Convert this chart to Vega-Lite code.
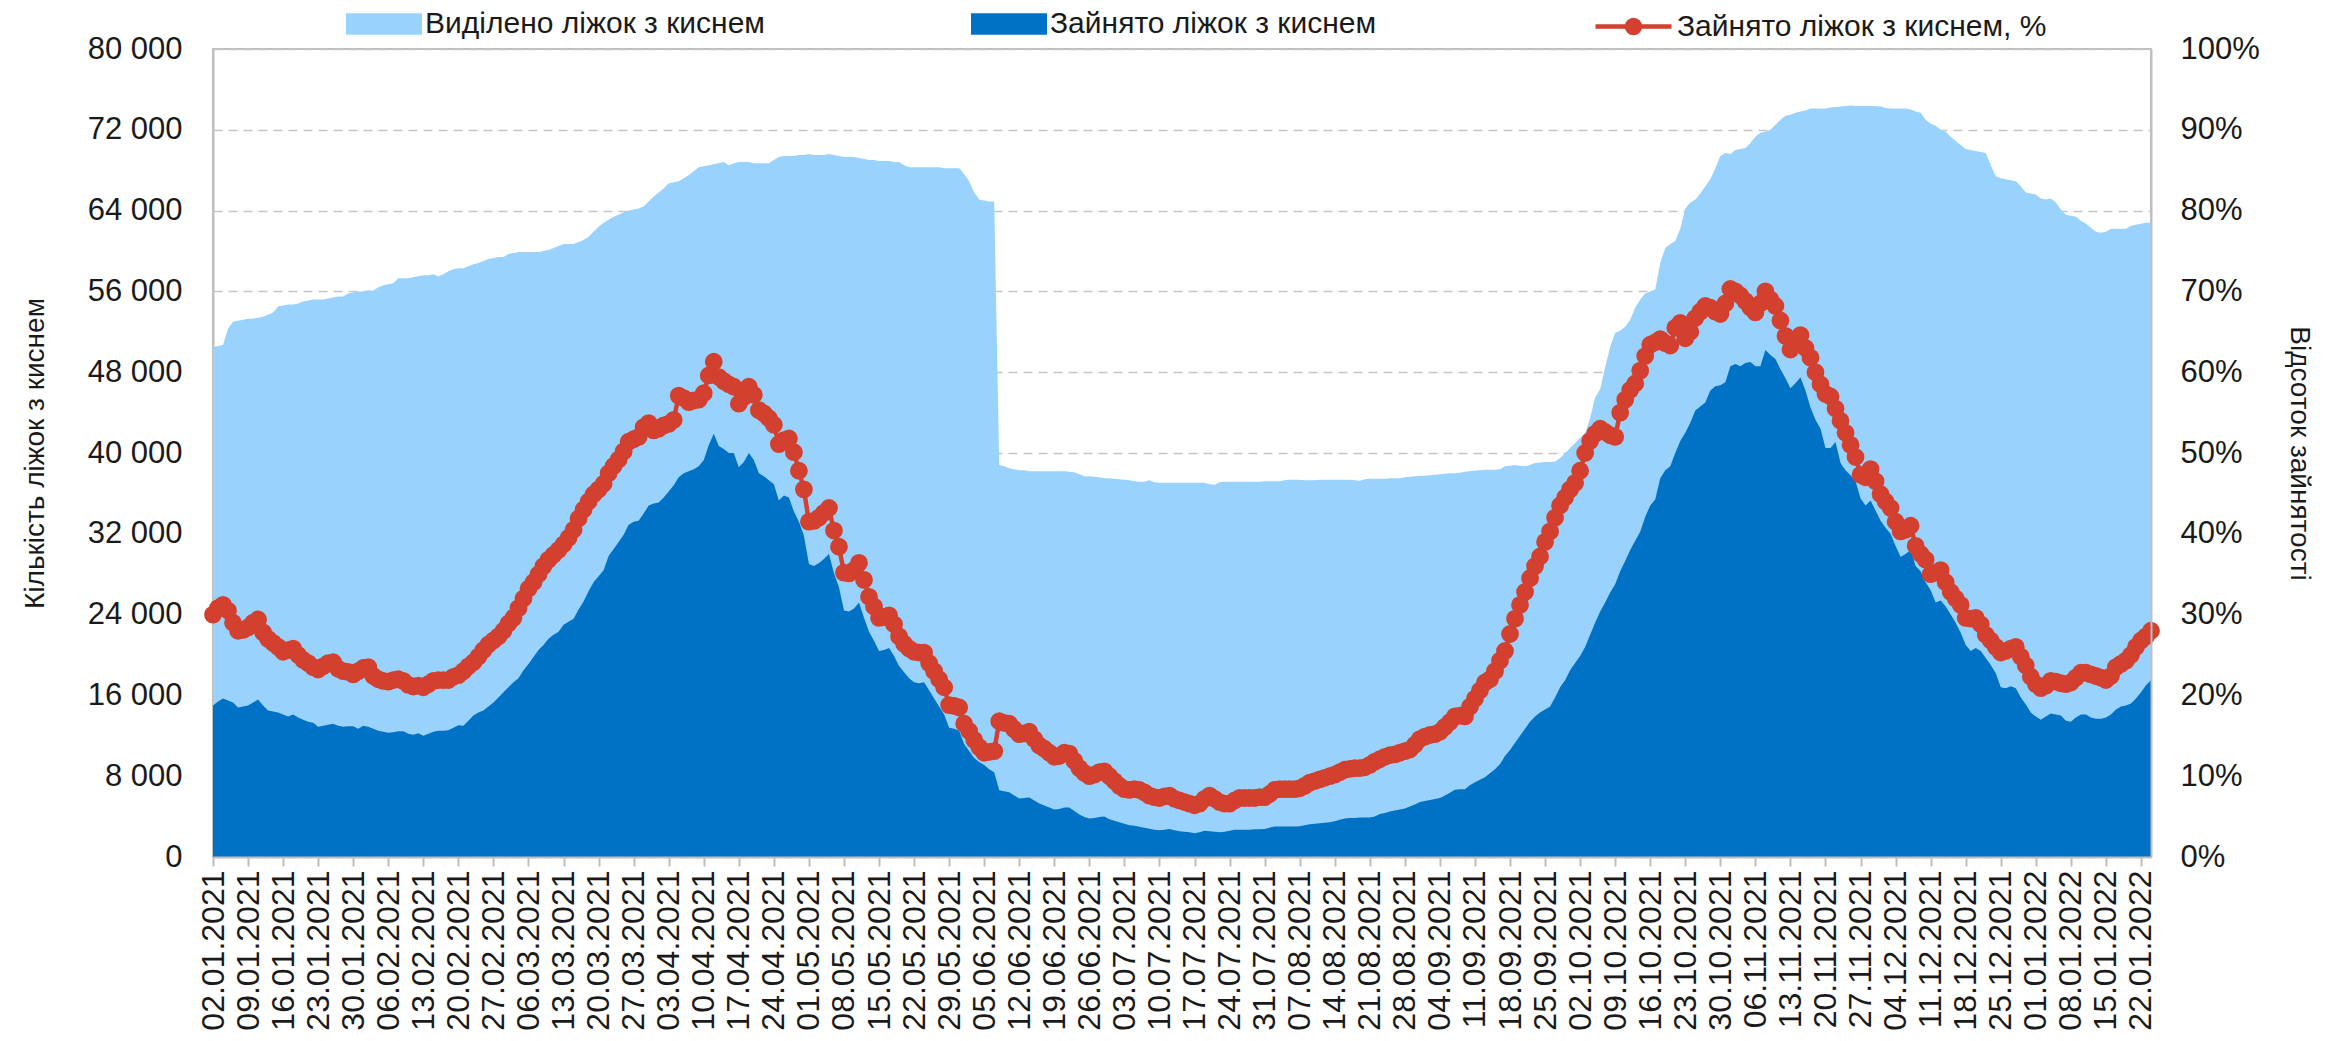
{
"$schema": "https://vega.github.io/schema/vega-lite/v6.json",
"width": 1938,
"height": 808,
"autosize": {"type": "none"},
"padding": {"left": 213, "top": 49, "right": 190, "bottom": 184},
"config": {
  "font": "Liberation Sans",
  "view": {"stroke": "#BFBFBF", "strokeWidth": 2},
  "axis": {"labelColor": "#1a1a1a", "titleColor": "#1a1a1a", "domainColor": "#BFBFBF", "domainWidth": 2, "tickColor": "#BFBFBF", "tickWidth": 2, "titleFontWeight": "normal"},
  "legend": {"labelColor": "#1a1a1a", "labelFontSize": 30, "labelOffset": 3, "labelLimit": 800, "padding": 0, "title": null}
},
"data": {"values": [
{"d":"2021-01-02","a":50500,"o":15000,"p":30.0},
{"d":"2021-01-03","a":50600,"o":15400,"p":30.8},
{"d":"2021-01-04","a":50700,"o":15700,"p":31.2},
{"d":"2021-01-05","a":52300,"o":15500,"p":30.5},
{"d":"2021-01-06","a":53000,"o":15300,"p":29.0},
{"d":"2021-01-07","a":53100,"o":14800,"p":28.0},
{"d":"2021-01-08","a":53200,"o":14900,"p":28.1},
{"d":"2021-01-09","a":53300,"o":15000,"p":28.4},
{"d":"2021-01-10","a":53300,"o":15300,"p":29.0},
{"d":"2021-01-11","a":53400,"o":15600,"p":29.4},
{"d":"2021-01-12","a":53500,"o":15000,"p":27.8},
{"d":"2021-01-13","a":53700,"o":14500,"p":27.0},
{"d":"2021-01-14","a":53900,"o":14400,"p":26.5},
{"d":"2021-01-15","a":54500,"o":14300,"p":26.0},
{"d":"2021-01-16","a":54600,"o":14100,"p":25.4},
{"d":"2021-01-17","a":54700,"o":13900,"p":25.6},
{"d":"2021-01-18","a":54700,"o":14100,"p":25.8},
{"d":"2021-01-19","a":54800,"o":13800,"p":25.0},
{"d":"2021-01-20","a":55000,"o":13600,"p":24.4},
{"d":"2021-01-21","a":55100,"o":13400,"p":24.0},
{"d":"2021-01-22","a":55200,"o":13300,"p":23.5},
{"d":"2021-01-23","a":55200,"o":12900,"p":23.2},
{"d":"2021-01-24","a":55200,"o":13000,"p":23.6},
{"d":"2021-01-25","a":55300,"o":13100,"p":24.0},
{"d":"2021-01-26","a":55400,"o":13200,"p":24.1},
{"d":"2021-01-27","a":55500,"o":13000,"p":23.3},
{"d":"2021-01-28","a":55500,"o":12900,"p":23.0},
{"d":"2021-01-29","a":55800,"o":12950,"p":22.9},
{"d":"2021-01-30","a":55900,"o":12950,"p":22.6},
{"d":"2021-01-31","a":56000,"o":12700,"p":23.0},
{"d":"2021-02-01","a":56000,"o":13000,"p":23.4},
{"d":"2021-02-02","a":56100,"o":12900,"p":23.5},
{"d":"2021-02-03","a":56100,"o":12700,"p":22.4},
{"d":"2021-02-04","a":56400,"o":12500,"p":22.0},
{"d":"2021-02-05","a":56600,"o":12400,"p":21.8},
{"d":"2021-02-06","a":56700,"o":12300,"p":21.7},
{"d":"2021-02-07","a":56800,"o":12350,"p":21.9},
{"d":"2021-02-08","a":57300,"o":12450,"p":22.0},
{"d":"2021-02-09","a":57300,"o":12450,"p":21.8},
{"d":"2021-02-10","a":57300,"o":12200,"p":21.3},
{"d":"2021-02-11","a":57400,"o":12100,"p":21.1},
{"d":"2021-02-12","a":57500,"o":12250,"p":21.2},
{"d":"2021-02-13","a":57600,"o":12000,"p":21.0},
{"d":"2021-02-14","a":57600,"o":12200,"p":21.4},
{"d":"2021-02-15","a":57700,"o":12400,"p":21.8},
{"d":"2021-02-16","a":57500,"o":12500,"p":21.9},
{"d":"2021-02-17","a":57700,"o":12500,"p":21.9},
{"d":"2021-02-18","a":58000,"o":12550,"p":21.9},
{"d":"2021-02-19","a":58200,"o":12800,"p":22.3},
{"d":"2021-02-20","a":58300,"o":13050,"p":22.5},
{"d":"2021-02-21","a":58300,"o":13000,"p":23.0},
{"d":"2021-02-22","a":58500,"o":13500,"p":23.6},
{"d":"2021-02-23","a":58700,"o":14000,"p":24.1},
{"d":"2021-02-24","a":58800,"o":14300,"p":24.8},
{"d":"2021-02-25","a":59000,"o":14500,"p":25.6},
{"d":"2021-02-26","a":59200,"o":14900,"p":26.3},
{"d":"2021-02-27","a":59300,"o":15300,"p":26.8},
{"d":"2021-02-28","a":59400,"o":15800,"p":27.3},
{"d":"2021-03-01","a":59400,"o":16300,"p":28.0},
{"d":"2021-03-02","a":59700,"o":16800,"p":28.9},
{"d":"2021-03-03","a":59800,"o":17300,"p":29.6},
{"d":"2021-03-04","a":59900,"o":17700,"p":30.8},
{"d":"2021-03-05","a":59900,"o":18500,"p":32.0},
{"d":"2021-03-06","a":59900,"o":19100,"p":33.2},
{"d":"2021-03-07","a":59900,"o":19800,"p":34.0},
{"d":"2021-03-08","a":59900,"o":20500,"p":35.0},
{"d":"2021-03-09","a":60000,"o":21000,"p":36.0},
{"d":"2021-03-10","a":60100,"o":21600,"p":36.8},
{"d":"2021-03-11","a":60300,"o":22000,"p":37.4},
{"d":"2021-03-12","a":60500,"o":22300,"p":38.0},
{"d":"2021-03-13","a":60700,"o":23000,"p":38.7},
{"d":"2021-03-14","a":60700,"o":23300,"p":39.5},
{"d":"2021-03-15","a":60700,"o":23600,"p":40.5},
{"d":"2021-03-16","a":60900,"o":24500,"p":41.9},
{"d":"2021-03-17","a":61100,"o":25300,"p":43.0},
{"d":"2021-03-18","a":61400,"o":26300,"p":44.0},
{"d":"2021-03-19","a":61900,"o":27200,"p":44.9},
{"d":"2021-03-20","a":62400,"o":27800,"p":45.5},
{"d":"2021-03-21","a":62800,"o":28400,"p":46.2},
{"d":"2021-03-22","a":63100,"o":29800,"p":47.5},
{"d":"2021-03-23","a":63400,"o":30500,"p":48.4},
{"d":"2021-03-24","a":63600,"o":31200,"p":49.2},
{"d":"2021-03-25","a":63800,"o":31900,"p":50.2},
{"d":"2021-03-26","a":64000,"o":32900,"p":51.4},
{"d":"2021-03-27","a":64100,"o":33200,"p":51.7},
{"d":"2021-03-28","a":64200,"o":33300,"p":52.0},
{"d":"2021-03-29","a":64400,"o":34000,"p":53.2},
{"d":"2021-03-30","a":64900,"o":34800,"p":53.7},
{"d":"2021-03-31","a":65400,"o":35000,"p":52.8},
{"d":"2021-04-01","a":65800,"o":35100,"p":53.0},
{"d":"2021-04-02","a":66200,"o":35600,"p":53.4},
{"d":"2021-04-03","a":66700,"o":36200,"p":53.6},
{"d":"2021-04-04","a":66800,"o":36800,"p":54.1},
{"d":"2021-04-05","a":66900,"o":37600,"p":57.1},
{"d":"2021-04-06","a":67200,"o":38000,"p":56.8},
{"d":"2021-04-07","a":67500,"o":38200,"p":56.3},
{"d":"2021-04-08","a":67900,"o":38400,"p":56.5},
{"d":"2021-04-09","a":68300,"o":38700,"p":56.6},
{"d":"2021-04-10","a":68400,"o":39300,"p":57.4},
{"d":"2021-04-11","a":68500,"o":40800,"p":59.6},
{"d":"2021-04-12","a":68600,"o":41900,"p":61.3},
{"d":"2021-04-13","a":68700,"o":40700,"p":59.4},
{"d":"2021-04-14","a":68800,"o":40400,"p":58.9},
{"d":"2021-04-15","a":68500,"o":40000,"p":58.5},
{"d":"2021-04-16","a":68700,"o":40000,"p":58.2},
{"d":"2021-04-17","a":68800,"o":38600,"p":56.1},
{"d":"2021-04-18","a":68800,"o":39100,"p":56.9},
{"d":"2021-04-19","a":68800,"o":40000,"p":58.2},
{"d":"2021-04-20","a":68700,"o":39300,"p":57.2},
{"d":"2021-04-21","a":68700,"o":38000,"p":55.3},
{"d":"2021-04-22","a":68700,"o":37700,"p":54.9},
{"d":"2021-04-23","a":68700,"o":37300,"p":54.3},
{"d":"2021-04-24","a":69000,"o":36900,"p":53.5},
{"d":"2021-04-25","a":69300,"o":35300,"p":51.1},
{"d":"2021-04-26","a":69400,"o":35800,"p":51.6},
{"d":"2021-04-27","a":69400,"o":35600,"p":51.8},
{"d":"2021-04-28","a":69400,"o":34200,"p":50.1},
{"d":"2021-04-29","a":69500,"o":33200,"p":47.8},
{"d":"2021-04-30","a":69500,"o":31800,"p":45.5},
{"d":"2021-05-01","a":69600,"o":29000,"p":41.5},
{"d":"2021-05-02","a":69500,"o":28800,"p":41.6},
{"d":"2021-05-03","a":69500,"o":29100,"p":42.0},
{"d":"2021-05-04","a":69500,"o":29500,"p":42.6},
{"d":"2021-05-05","a":69600,"o":30000,"p":43.2},
{"d":"2021-05-06","a":69500,"o":28100,"p":40.4},
{"d":"2021-05-07","a":69400,"o":26700,"p":38.4},
{"d":"2021-05-08","a":69300,"o":24400,"p":35.2},
{"d":"2021-05-09","a":69300,"o":24300,"p":35.1},
{"d":"2021-05-10","a":69300,"o":24600,"p":35.5},
{"d":"2021-05-11","a":69200,"o":25200,"p":36.4},
{"d":"2021-05-12","a":69100,"o":23700,"p":34.3},
{"d":"2021-05-13","a":69000,"o":22300,"p":32.2},
{"d":"2021-05-14","a":69000,"o":21400,"p":31.0},
{"d":"2021-05-15","a":68900,"o":20400,"p":29.6},
{"d":"2021-05-16","a":68900,"o":20500,"p":29.7},
{"d":"2021-05-17","a":68900,"o":20700,"p":29.9},
{"d":"2021-05-18","a":68800,"o":19900,"p":28.8},
{"d":"2021-05-19","a":68800,"o":18900,"p":27.3},
{"d":"2021-05-20","a":68500,"o":18300,"p":26.4},
{"d":"2021-05-21","a":68300,"o":17700,"p":25.8},
{"d":"2021-05-22","a":68300,"o":17300,"p":25.4},
{"d":"2021-05-23","a":68300,"o":17200,"p":25.3},
{"d":"2021-05-24","a":68300,"o":17300,"p":25.3},
{"d":"2021-05-25","a":68300,"o":16500,"p":24.0},
{"d":"2021-05-26","a":68300,"o":15700,"p":23.0},
{"d":"2021-05-27","a":68300,"o":14900,"p":22.0},
{"d":"2021-05-28","a":68200,"o":14100,"p":21.0},
{"d":"2021-05-29","a":68200,"o":12800,"p":18.8},
{"d":"2021-05-30","a":68200,"o":12700,"p":18.7},
{"d":"2021-05-31","a":68200,"o":12500,"p":18.5},
{"d":"2021-06-01","a":67600,"o":11200,"p":16.5},
{"d":"2021-06-02","a":66900,"o":10500,"p":15.6},
{"d":"2021-06-03","a":65800,"o":9800,"p":14.5},
{"d":"2021-06-04","a":65100,"o":9400,"p":13.6},
{"d":"2021-06-05","a":65000,"o":9100,"p":12.9},
{"d":"2021-06-06","a":64900,"o":8700,"p":13.0},
{"d":"2021-06-07","a":64900,"o":8400,"p":13.1},
{"d":"2021-06-08","a":38800,"o":6600,"p":16.8},
{"d":"2021-06-09","a":38700,"o":6500,"p":16.6},
{"d":"2021-06-10","a":38500,"o":6400,"p":16.5},
{"d":"2021-06-11","a":38400,"o":6100,"p":15.8},
{"d":"2021-06-12","a":38300,"o":5800,"p":15.2},
{"d":"2021-06-13","a":38300,"o":5850,"p":15.3},
{"d":"2021-06-14","a":38200,"o":5900,"p":15.5},
{"d":"2021-06-15","a":38200,"o":5600,"p":14.6},
{"d":"2021-06-16","a":38200,"o":5300,"p":13.8},
{"d":"2021-06-17","a":38200,"o":5100,"p":13.4},
{"d":"2021-06-18","a":38200,"o":4900,"p":12.9},
{"d":"2021-06-19","a":38200,"o":4700,"p":12.4},
{"d":"2021-06-20","a":38200,"o":4750,"p":12.5},
{"d":"2021-06-21","a":38200,"o":4900,"p":12.9},
{"d":"2021-06-22","a":38150,"o":4900,"p":12.8},
{"d":"2021-06-23","a":38100,"o":4550,"p":11.9},
{"d":"2021-06-24","a":37900,"o":4200,"p":11.0},
{"d":"2021-06-25","a":37700,"o":3950,"p":10.4},
{"d":"2021-06-26","a":37700,"o":3800,"p":10.0},
{"d":"2021-06-27","a":37650,"o":3850,"p":10.2},
{"d":"2021-06-28","a":37600,"o":3950,"p":10.5},
{"d":"2021-06-29","a":37500,"o":4000,"p":10.6},
{"d":"2021-06-30","a":37500,"o":3750,"p":10.0},
{"d":"2021-07-01","a":37450,"o":3600,"p":9.4},
{"d":"2021-07-02","a":37400,"o":3450,"p":8.8},
{"d":"2021-07-03","a":37350,"o":3300,"p":8.4},
{"d":"2021-07-04","a":37300,"o":3150,"p":8.3},
{"d":"2021-07-05","a":37200,"o":3100,"p":8.4},
{"d":"2021-07-06","a":37150,"o":3000,"p":8.3},
{"d":"2021-07-07","a":37150,"o":2900,"p":8.0},
{"d":"2021-07-08","a":37300,"o":2800,"p":7.6},
{"d":"2021-07-09","a":37100,"o":2700,"p":7.4},
{"d":"2021-07-10","a":37050,"o":2650,"p":7.3},
{"d":"2021-07-11","a":37050,"o":2700,"p":7.5},
{"d":"2021-07-12","a":37050,"o":2770,"p":7.6},
{"d":"2021-07-13","a":37050,"o":2650,"p":7.2},
{"d":"2021-07-14","a":37050,"o":2550,"p":7.0},
{"d":"2021-07-15","a":37050,"o":2500,"p":6.8},
{"d":"2021-07-16","a":37050,"o":2450,"p":6.6},
{"d":"2021-07-17","a":37050,"o":2350,"p":6.4},
{"d":"2021-07-18","a":37050,"o":2450,"p":6.6},
{"d":"2021-07-19","a":37050,"o":2600,"p":7.2},
{"d":"2021-07-20","a":36900,"o":2550,"p":7.6},
{"d":"2021-07-21","a":36850,"o":2500,"p":7.2},
{"d":"2021-07-22","a":37100,"o":2450,"p":6.8},
{"d":"2021-07-23","a":37150,"o":2500,"p":6.6},
{"d":"2021-07-24","a":37150,"o":2600,"p":6.6},
{"d":"2021-07-25","a":37150,"o":2700,"p":7.0},
{"d":"2021-07-26","a":37150,"o":2700,"p":7.3},
{"d":"2021-07-27","a":37150,"o":2700,"p":7.3},
{"d":"2021-07-28","a":37150,"o":2700,"p":7.3},
{"d":"2021-07-29","a":37150,"o":2750,"p":7.3},
{"d":"2021-07-30","a":37150,"o":2750,"p":7.4},
{"d":"2021-07-31","a":37200,"o":2770,"p":7.4},
{"d":"2021-08-01","a":37200,"o":2900,"p":7.8},
{"d":"2021-08-02","a":37200,"o":3030,"p":8.3},
{"d":"2021-08-03","a":37200,"o":3030,"p":8.4},
{"d":"2021-08-04","a":37300,"o":3030,"p":8.4},
{"d":"2021-08-05","a":37350,"o":3030,"p":8.4},
{"d":"2021-08-06","a":37350,"o":3030,"p":8.4},
{"d":"2021-08-07","a":37350,"o":3050,"p":8.5},
{"d":"2021-08-08","a":37300,"o":3150,"p":8.8},
{"d":"2021-08-09","a":37300,"o":3250,"p":9.2},
{"d":"2021-08-10","a":37300,"o":3300,"p":9.4},
{"d":"2021-08-11","a":37350,"o":3350,"p":9.6},
{"d":"2021-08-12","a":37350,"o":3400,"p":9.8},
{"d":"2021-08-13","a":37350,"o":3450,"p":10.0},
{"d":"2021-08-14","a":37350,"o":3550,"p":10.2},
{"d":"2021-08-15","a":37350,"o":3700,"p":10.5},
{"d":"2021-08-16","a":37350,"o":3800,"p":10.8},
{"d":"2021-08-17","a":37350,"o":3850,"p":10.9},
{"d":"2021-08-18","a":37300,"o":3850,"p":11.0},
{"d":"2021-08-19","a":37250,"o":3900,"p":11.0},
{"d":"2021-08-20","a":37400,"o":3900,"p":11.1},
{"d":"2021-08-21","a":37450,"o":3900,"p":11.4},
{"d":"2021-08-22","a":37450,"o":4000,"p":11.8},
{"d":"2021-08-23","a":37450,"o":4250,"p":12.1},
{"d":"2021-08-24","a":37450,"o":4350,"p":12.4},
{"d":"2021-08-25","a":37500,"o":4500,"p":12.6},
{"d":"2021-08-26","a":37500,"o":4600,"p":12.7},
{"d":"2021-08-27","a":37500,"o":4700,"p":12.9},
{"d":"2021-08-28","a":37600,"o":4800,"p":13.1},
{"d":"2021-08-29","a":37650,"o":5000,"p":13.3},
{"d":"2021-08-30","a":37700,"o":5200,"p":13.9},
{"d":"2021-08-31","a":37750,"o":5450,"p":14.6},
{"d":"2021-09-01","a":37750,"o":5550,"p":14.9},
{"d":"2021-09-02","a":37800,"o":5650,"p":15.1},
{"d":"2021-09-03","a":37850,"o":5750,"p":15.2},
{"d":"2021-09-04","a":37900,"o":5850,"p":15.5},
{"d":"2021-09-05","a":37950,"o":6100,"p":16.1},
{"d":"2021-09-06","a":38000,"o":6350,"p":16.7},
{"d":"2021-09-07","a":38000,"o":6650,"p":17.4},
{"d":"2021-09-08","a":38050,"o":6700,"p":17.5},
{"d":"2021-09-09","a":38150,"o":6700,"p":17.4},
{"d":"2021-09-10","a":38200,"o":7100,"p":18.6},
{"d":"2021-09-11","a":38250,"o":7400,"p":19.6},
{"d":"2021-09-12","a":38300,"o":7650,"p":20.6},
{"d":"2021-09-13","a":38350,"o":7900,"p":21.6},
{"d":"2021-09-14","a":38350,"o":8300,"p":22.0},
{"d":"2021-09-15","a":38350,"o":8700,"p":23.0},
{"d":"2021-09-16","a":38400,"o":9200,"p":24.3},
{"d":"2021-09-17","a":38700,"o":10000,"p":25.5},
{"d":"2021-09-18","a":38750,"o":10600,"p":27.6},
{"d":"2021-09-19","a":38800,"o":11300,"p":29.5},
{"d":"2021-09-20","a":38750,"o":12000,"p":31.2},
{"d":"2021-09-21","a":38700,"o":12700,"p":32.8},
{"d":"2021-09-22","a":38800,"o":13400,"p":34.5},
{"d":"2021-09-23","a":39000,"o":13900,"p":36.0},
{"d":"2021-09-24","a":39050,"o":14300,"p":37.2},
{"d":"2021-09-25","a":39100,"o":14600,"p":39.0},
{"d":"2021-09-26","a":39100,"o":14900,"p":40.3},
{"d":"2021-09-27","a":39150,"o":15800,"p":42.0},
{"d":"2021-09-28","a":39500,"o":16800,"p":43.5},
{"d":"2021-09-29","a":40000,"o":17500,"p":44.5},
{"d":"2021-09-30","a":40500,"o":18500,"p":45.5},
{"d":"2021-10-01","a":41000,"o":19200,"p":46.3},
{"d":"2021-10-02","a":41500,"o":19900,"p":47.8},
{"d":"2021-10-03","a":41900,"o":20800,"p":50.0},
{"d":"2021-10-04","a":43500,"o":22000,"p":51.5},
{"d":"2021-10-05","a":45500,"o":23200,"p":52.4},
{"d":"2021-10-06","a":46300,"o":24300,"p":53.0},
{"d":"2021-10-07","a":48500,"o":25200,"p":52.6},
{"d":"2021-10-08","a":50500,"o":26200,"p":52.2},
{"d":"2021-10-09","a":51900,"o":27000,"p":52.0},
{"d":"2021-10-10","a":52100,"o":28300,"p":55.0},
{"d":"2021-10-11","a":52500,"o":29300,"p":56.6},
{"d":"2021-10-12","a":53200,"o":30400,"p":57.8},
{"d":"2021-10-13","a":54400,"o":31300,"p":58.6},
{"d":"2021-10-14","a":55200,"o":32200,"p":60.2},
{"d":"2021-10-15","a":55800,"o":33700,"p":62.0},
{"d":"2021-10-16","a":56000,"o":34800,"p":63.4},
{"d":"2021-10-17","a":56200,"o":35400,"p":63.7},
{"d":"2021-10-18","a":58800,"o":37500,"p":64.1},
{"d":"2021-10-19","a":60300,"o":38300,"p":63.6},
{"d":"2021-10-20","a":60700,"o":38700,"p":63.3},
{"d":"2021-10-21","a":61000,"o":40000,"p":65.5},
{"d":"2021-10-22","a":62200,"o":41200,"p":66.1},
{"d":"2021-10-23","a":64200,"o":42000,"p":64.2},
{"d":"2021-10-24","a":64800,"o":43000,"p":65.0},
{"d":"2021-10-25","a":65100,"o":44200,"p":66.7},
{"d":"2021-10-26","a":65700,"o":44600,"p":67.5},
{"d":"2021-10-27","a":66400,"o":45000,"p":68.2},
{"d":"2021-10-28","a":67100,"o":46200,"p":68.0},
{"d":"2021-10-29","a":68200,"o":46600,"p":67.5},
{"d":"2021-10-30","a":69400,"o":46700,"p":67.2},
{"d":"2021-10-31","a":69700,"o":47000,"p":68.5},
{"d":"2021-11-01","a":69600,"o":48600,"p":70.3},
{"d":"2021-11-02","a":70000,"o":48800,"p":70.0},
{"d":"2021-11-03","a":70100,"o":48600,"p":69.5},
{"d":"2021-11-04","a":70200,"o":48900,"p":68.8},
{"d":"2021-11-05","a":70700,"o":49000,"p":68.0},
{"d":"2021-11-06","a":71300,"o":48600,"p":67.4},
{"d":"2021-11-07","a":71700,"o":48600,"p":68.5},
{"d":"2021-11-08","a":71800,"o":50200,"p":70.0},
{"d":"2021-11-09","a":72000,"o":49700,"p":69.0},
{"d":"2021-11-10","a":72500,"o":49300,"p":68.2},
{"d":"2021-11-11","a":73000,"o":48300,"p":66.4},
{"d":"2021-11-12","a":73400,"o":47400,"p":64.5},
{"d":"2021-11-13","a":73500,"o":46400,"p":62.8},
{"d":"2021-11-14","a":73700,"o":46900,"p":63.8},
{"d":"2021-11-15","a":73800,"o":47500,"p":64.6},
{"d":"2021-11-16","a":73900,"o":46200,"p":63.0},
{"d":"2021-11-17","a":74100,"o":44500,"p":61.8},
{"d":"2021-11-18","a":74100,"o":43300,"p":60.0},
{"d":"2021-11-19","a":74100,"o":42400,"p":58.5},
{"d":"2021-11-20","a":74100,"o":40500,"p":57.3},
{"d":"2021-11-21","a":74200,"o":40500,"p":57.0},
{"d":"2021-11-22","a":74250,"o":41100,"p":55.5},
{"d":"2021-11-23","a":74300,"o":39000,"p":54.0},
{"d":"2021-11-24","a":74350,"o":38300,"p":52.5},
{"d":"2021-11-25","a":74400,"o":37800,"p":51.0},
{"d":"2021-11-26","a":74350,"o":37200,"p":49.5},
{"d":"2021-11-27","a":74350,"o":35500,"p":47.3},
{"d":"2021-11-28","a":74350,"o":34800,"p":47.0},
{"d":"2021-11-29","a":74350,"o":35300,"p":48.0},
{"d":"2021-11-30","a":74350,"o":34300,"p":46.5},
{"d":"2021-12-01","a":74300,"o":33300,"p":44.9},
{"d":"2021-12-02","a":74150,"o":32600,"p":44.0},
{"d":"2021-12-03","a":74100,"o":32000,"p":43.2},
{"d":"2021-12-04","a":74100,"o":30800,"p":41.5},
{"d":"2021-12-05","a":74100,"o":29700,"p":40.3},
{"d":"2021-12-06","a":74100,"o":30000,"p":40.5},
{"d":"2021-12-07","a":74000,"o":30400,"p":41.0},
{"d":"2021-12-08","a":73800,"o":28800,"p":38.5},
{"d":"2021-12-09","a":73700,"o":28300,"p":37.5},
{"d":"2021-12-10","a":73000,"o":27200,"p":36.8},
{"d":"2021-12-11","a":72600,"o":26400,"p":35.0},
{"d":"2021-12-12","a":72400,"o":25200,"p":35.2},
{"d":"2021-12-13","a":72000,"o":25400,"p":35.5},
{"d":"2021-12-14","a":71800,"o":24800,"p":34.0},
{"d":"2021-12-15","a":71300,"o":24000,"p":32.8},
{"d":"2021-12-16","a":70900,"o":23200,"p":32.0},
{"d":"2021-12-17","a":70500,"o":22200,"p":31.2},
{"d":"2021-12-18","a":70100,"o":21000,"p":29.6},
{"d":"2021-12-19","a":70000,"o":20400,"p":29.5},
{"d":"2021-12-20","a":69900,"o":20700,"p":29.6},
{"d":"2021-12-21","a":69800,"o":20400,"p":28.8},
{"d":"2021-12-22","a":69700,"o":19700,"p":27.5},
{"d":"2021-12-23","a":68500,"o":19000,"p":26.8},
{"d":"2021-12-24","a":67400,"o":18200,"p":26.0},
{"d":"2021-12-25","a":67200,"o":16800,"p":25.3},
{"d":"2021-12-26","a":67100,"o":16700,"p":25.5},
{"d":"2021-12-27","a":67000,"o":16900,"p":25.8},
{"d":"2021-12-28","a":66900,"o":16700,"p":26.0},
{"d":"2021-12-29","a":66400,"o":15800,"p":24.8},
{"d":"2021-12-30","a":65800,"o":15100,"p":23.7},
{"d":"2021-12-31","a":65700,"o":14300,"p":22.3},
{"d":"2022-01-01","a":65600,"o":13900,"p":21.4},
{"d":"2022-01-02","a":65200,"o":13600,"p":20.9},
{"d":"2022-01-03","a":65100,"o":13900,"p":21.2},
{"d":"2022-01-04","a":65200,"o":14200,"p":21.8},
{"d":"2022-01-05","a":64800,"o":14100,"p":21.7},
{"d":"2022-01-06","a":64100,"o":14000,"p":21.5},
{"d":"2022-01-07","a":63600,"o":13500,"p":21.4},
{"d":"2022-01-08","a":63500,"o":13400,"p":21.6},
{"d":"2022-01-09","a":63400,"o":13800,"p":22.2},
{"d":"2022-01-10","a":63000,"o":14100,"p":22.8},
{"d":"2022-01-11","a":62700,"o":14100,"p":22.8},
{"d":"2022-01-12","a":62300,"o":13800,"p":22.6},
{"d":"2022-01-13","a":61900,"o":13700,"p":22.4},
{"d":"2022-01-14","a":61800,"o":13700,"p":22.2},
{"d":"2022-01-15","a":61900,"o":13800,"p":21.9},
{"d":"2022-01-16","a":62200,"o":14100,"p":22.4},
{"d":"2022-01-17","a":62200,"o":14600,"p":23.5},
{"d":"2022-01-18","a":62200,"o":14900,"p":23.9},
{"d":"2022-01-19","a":62200,"o":15000,"p":24.3},
{"d":"2022-01-20","a":62500,"o":15200,"p":25.0},
{"d":"2022-01-21","a":62600,"o":15700,"p":26.0},
{"d":"2022-01-22","a":62700,"o":16300,"p":26.8},
{"d":"2022-01-23","a":62800,"o":17000,"p":27.3},
{"d":"2022-01-24","a":62800,"o":17500,"p":28.0}
]},
"encoding": {
  "x": {
    "field": "d", "type": "temporal", "timeUnit": "utcyearmonthdate",
    "scale": {"domain": [1609545600000, 1642982400000]},
    "axis": {
      "title": null, "grid": false, "zindex": 1,
      "values": [1609545600000,1610150400000,1610755200000,1611360000000,1611964800000,1612569600000,1613174400000,1613779200000,1614384000000,1614988800000,1615593600000,1616198400000,1616803200000,1617408000000,1618012800000,1618617600000,1619222400000,1619827200000,1620432000000,1621036800000,1621641600000,1622246400000,1622851200000,1623456000000,1624060800000,1624665600000,1625270400000,1625875200000,1626480000000,1627084800000,1627689600000,1628294400000,1628899200000,1629504000000,1630108800000,1630713600000,1631318400000,1631923200000,1632528000000,1633132800000,1633737600000,1634342400000,1634947200000,1635552000000,1636156800000,1636761600000,1637366400000,1637971200000,1638576000000,1639180800000,1639785600000,1640390400000,1640995200000,1641600000000,1642204800000,1642809600000],
      "format": "%d.%m.%Y", "labelAngle": 270, "labelAlign": "right", "labelBaseline": "middle",
      "labelFontSize": 32, "labelPadding": 4, "tickSize": 9,
      "labelOverlap": false, "labelFlush": false, "labelBound": false
    }
  }
},
"layer": [
  {
    "layer": [
      {
        "mark": {"type": "area", "opacity": 1, "interpolate": "linear"},
        "encoding": {
          "y": {"field": "a", "type": "quantitative", "stack": null,
            "scale": {"domain": [0, 80000], "nice": false},
            "axis": {
              "values": [0,8000,16000,24000,32000,40000,48000,56000,64000,72000,80000],
              "labelExpr": "replace(format(datum.value, ','), ',', ' ')",
              "title": "Кількість ліжок з киснем", "titleFontSize": 28, "titlePadding": 38,
              "labelFontSize": 31, "labelPadding": 31, "ticks": false, "labelFlush": false,
              "grid": true, "gridColor": "#C6C6C6", "gridDash": [9, 6], "gridWidth": 1.5, "zindex": 0
            }
          },
          "color": {
            "datum": "Виділено ліжок з киснем",
            "scale": {
              "domain": ["Виділено ліжок з киснем", "Зайнято ліжок з киснем"],
              "range": ["#99D3FD", "#0072C6"]
            },
            "legend": {
              "orient": "none", "legendX": 133, "legendY": -63, "direction": "horizontal",
              "symbolType": "M-1,-0.28H1V0.28H-1Z", "symbolSize": 5776,
              "symbolStrokeWidth": 0, "symbolOpacity": 1, "columnPadding": 206
            }
          }
        }
      },
      {
        "mark": {"type": "area", "opacity": 1, "interpolate": "linear"},
        "encoding": {
          "y": {"field": "o", "type": "quantitative", "stack": null},
          "color": {"datum": "Зайнято ліжок з киснем"}
        }
      }
    ]
  },
  {
    "mark": {"type": "line", "strokeWidth": 4.5, "color": "#D3402F", "point": {"filled": true, "size": 250, "opacity": 1, "color": "#D3402F"}},
    "encoding": {
      "y": {"field": "p", "type": "quantitative",
        "scale": {"domain": [0, 100], "nice": false},
        "axis": {
          "orient": "right",
          "values": [0,10,20,30,40,50,60,70,80,90,100],
          "labelExpr": "datum.value + '%'",
          "title": "Відсоток зайнятості", "titleFontSize": 28, "titlePadding": 25,
          "labelFontSize": 31, "labelPadding": 29, "ticks": false, "grid": false, "labelFlush": false, "zindex": 1
        }
      },
      "stroke": {
        "datum": "Зайнято ліжок з киснем, %",
        "scale": {"domain": ["Зайнято ліжок з киснем, %"], "range": ["#D3402F"]},
        "legend": {
          "orient": "none", "legendX": 1380, "legendY": -63,
          "symbolType": "M-1,0H1 M0.05,0A0.05,0.05 0 1,1 -0.05,0A0.05,0.05 0 1,1 0.05,0Z M0.11,0A0.11,0.11 0 1,1 -0.11,0A0.11,0.11 0 1,1 0.11,0Z M0.17,0A0.17,0.17 0 1,1 -0.17,0A0.17,0.17 0 1,1 0.17,0Z",
          "symbolSize": 5776, "symbolStrokeWidth": 4.5, "symbolFillColor": "#D3402F", "symbolOpacity": 1
        }
      }
    }
  }
],
"resolve": {"scale": {"y": "independent"}}
}
